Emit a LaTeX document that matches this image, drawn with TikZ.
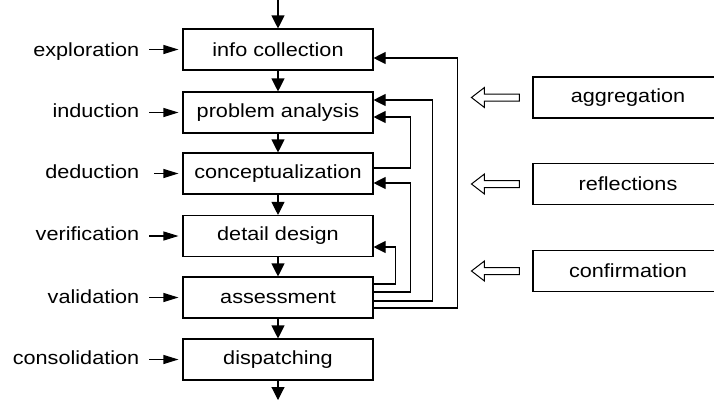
\documentclass[tikz,border=0pt]{standalone}
\usepackage{fontspec}
\setmainfont[FakeStretch=1.14]{Liberation Sans}
\usetikzlibrary{arrows.meta,positioning}

\begin{document}
\begin{tikzpicture}[x=1pt, y=-1pt,
    every node/.style={font=\fontsize{19}{23}\selectfont},
    box/.style={draw, line width=1.1pt, minimum width=190pt, minimum height=41pt, inner sep=0pt},
    lbl/.style={inner xsep=10pt, inner ysep=0pt},
    flow/.style={-{Triangle[length=13pt,width=13pt]}, line width=1.1pt},
    back/.style={-{Triangle[length=12pt,width=12pt]}, line width=1.1pt},
    feed/.style={-{Triangle[length=15pt,width=9pt]}, line width=1.1pt, shorten >=4pt},
    hollow/.style={line width=1pt, line join=miter}]
    \useasboundingbox (0,0) rectangle (714,405);

    \node[box] (info) at (278,49.5) {info collection};
    \node[box] (analysis) at (278,112.5) {problem analysis};
    \node[box] (concept) at (278,173.5) {conceptualization};
    \node[box] (design) at (278,236) {detail design};
    \node[box] (assess) at (278,297.5) {assessment};
    \node[box] (dispatch) at (278,359.5) {dispatching};
    \coordinate (in) at (278,0);
    \coordinate (out) at (278,400);

    \draw[flow] (in) -- (info);
    \draw[flow] (info) -- (analysis);
    \draw[flow] (analysis) -- (concept);
    \draw[flow] (concept) -- (design);
    \draw[flow] (design) -- (assess);
    \draw[flow] (assess) -- (dispatch);
    \draw[flow] (dispatch) -- (out);

    \node[lbl, left=33pt of info.base west, anchor=base east] (explor) {exploration};
    \node[lbl, left=33pt of analysis.base west, anchor=base east] (induct) {induction};
    \node[lbl, left=28pt of concept.base west, anchor=base east, inner xsep=15pt] (deduct) {deduction};
    \node[lbl, left=33pt of design.base west, anchor=base east] (verif) {verification};
    \node[lbl, left=33pt of assess.base west, anchor=base east] (valid) {validation};
    \node[lbl, left=33pt of dispatch.base west, anchor=base east] (consol) {consolidation};

    \draw[feed] (explor.east |- info.west) -- (info.west);
    \draw[feed] (induct.east |- analysis.west) -- (analysis.west);
    \draw[feed] (deduct.east |- concept.west) -- (concept.west);
    \draw[feed] (verif.east |- design.west) -- (design.west);
    \draw[feed] (valid.east |- assess.west) -- (assess.west);
    \draw[feed] (consol.east |- dispatch.west) -- (dispatch.west);

    \draw[back] ([yshift=13.5pt]assess.east) -- ++(22,0) |- ([yshift=-11pt]design.east);
    \draw[back] ([yshift=5.5pt]assess.east) -- ++(37,0) |- ([yshift=-9.5pt]concept.east);
    \draw[back] ([yshift=5.5pt]concept.east) -- ++(37,0) |- ([yshift=-4.5pt]analysis.east);
    \draw[back] ([yshift=-3.5pt]assess.east) -- ++(59,0) |- ([yshift=12.5pt]analysis.east);
    \draw[back] ([yshift=-10.5pt]assess.east) -- ++(84,0) |- ([yshift=-8.5pt]info.east);

    \node[box] (aggr) at (628,97.5) {aggregation};
    \node[box] (reflect) at (628,184) {reflections};
    \node[box] (confirm) at (628,271) {confirmation};

    \draw[hollow] ([xshift=-13pt]aggr.west) -- ++(0,-3.5) -- ++(-35,0) -- ++(0,-6.5)
        -- ++(-13,10) -- ++(13,10) -- ++(0,-6.5) -- ++(35,0) -- cycle;
    \draw[hollow] ([xshift=-13pt]reflect.west) -- ++(0,-3.5) -- ++(-35,0) -- ++(0,-6.5)
        -- ++(-13,10) -- ++(13,10) -- ++(0,-6.5) -- ++(35,0) -- cycle;
    \draw[hollow] ([xshift=-13pt]confirm.west) -- ++(0,-3.5) -- ++(-35,0) -- ++(0,-6.5)
        -- ++(-13,10) -- ++(13,10) -- ++(0,-6.5) -- ++(35,0) -- cycle;
\end{tikzpicture}
\end{document}
